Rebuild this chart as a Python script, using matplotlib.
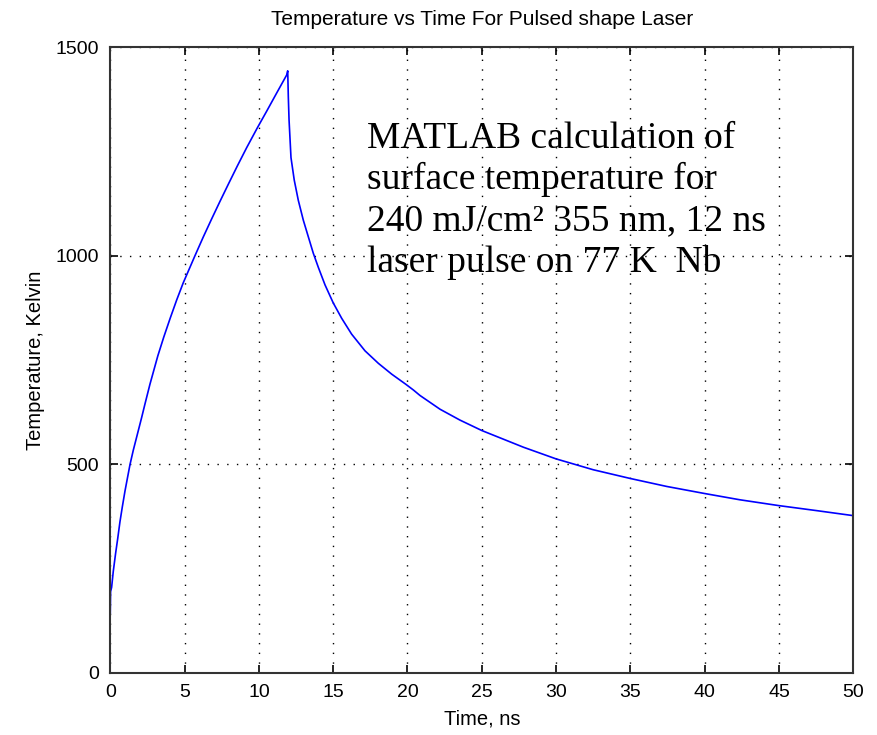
import numpy as np
import matplotlib
matplotlib.use("Agg")
import matplotlib.pyplot as plt

# heating phase
t_rise = [0, 0.02, 0.09, 0.2, 0.36, 0.5, 0.65, 0.81, 0.99, 1.17, 1.33, 1.55,
          1.78, 2.11, 2.33, 2.67, 3.2, 3.6, 4.03, 4.47, 4.91, 5.36, 5.7, 6.26,
          6.82, 7.38, 7.94, 8.55, 9.18, 9.89, 10.52, 11.2, 11.87, 11.94]
T_rise = [143, 195, 205, 243, 287, 322, 362, 398, 436, 470, 500, 534,
          566, 612, 644, 692, 760, 805, 850, 894, 935, 972, 1000, 1045,
          1088, 1130, 1171, 1215, 1259, 1306, 1346, 1390, 1433, 1443]

# cooling phase
t_fall = [11.98, 12.03, 12.16, 12.38, 12.65, 12.99, 13.32, 13.66, 14.0, 14.45,
          15.0, 15.57, 16.24, 17.14, 18.04, 18.94, 19.88, 20.4, 20.84, 22.19,
          23.53, 25, 27.8, 30, 32.5, 35, 37.44, 40, 42.37, 45, 47.54, 50]
T_fall = [1381, 1325, 1235, 1181, 1133, 1085, 1046, 1006, 972, 930,
          887, 850, 812, 772, 742, 716, 692, 678, 665, 632,
          606, 581, 541, 513, 487, 466, 447, 430, 415, 401, 389, 377]

t = np.array(t_rise + t_fall)
T = np.array(T_rise + T_fall)

sans = ['Liberation Sans', 'DejaVu Sans']

fig = plt.figure(figsize=(8.78, 7.35), dpi=100)
ax = fig.add_axes([0.1256, 0.0844, 0.8463, 0.8516])

ax.plot(t, T, color='#0000ff', lw=1.2)

ax.set_xlim(0, 50)
ax.set_ylim(0, 1500)
ax.set_xticks(np.arange(0, 51, 5))
ax.set_yticks([0, 500, 1000, 1500])
ax.grid(True, color='black', linestyle=(0, (1, 6)), lw=1.0)
ax.tick_params(direction='in', length=6, width=1.2, top=True, right=True,
               labelsize=14, pad=8)
for lab in ax.get_xticklabels() + ax.get_yticklabels():
    lab.set_family(sans)
for s in ax.spines.values():
    s.set_linewidth(1.5)
    s.set_color('#333333')

ax.set_title('Temperature vs Time For Pulsed shape Laser', family=sans,
             fontsize=15, pad=16)
ax.set_xlabel('Time, ns', family=sans, fontsize=14.5, labelpad=6)
ax.set_ylabel('Temperature, Kelvin', family=sans, fontsize=14.5, labelpad=8)

ax.text(17.3, 1322, 'MATLAB calculation of\nsurface temperature for\n'
        '240 mJ/cm² 355 nm, 12 ns\nlaser pulse on 77 K  Nb',
        family=['Liberation Serif', 'DejaVu Serif'], fontsize=27,
        va='top', ha='left', linespacing=1.24)

fig.savefig('out.png', dpi=100)
